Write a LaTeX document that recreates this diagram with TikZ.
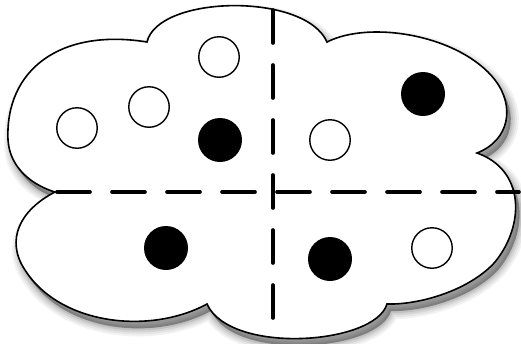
\documentclass[tikz,border=0pt]{standalone}
\newcommand\cloudpath{(147,42) .. controls (158,-5) and (305,-8) .. (327,42)
  .. controls (370,20) and (460,35) .. (495,80)
  .. controls (515,106) and (510,140) .. (477,153)
  .. controls (525,170) and (525,225) .. (495,262)
  .. controls (470,290) and (420,305) .. (387,304)
  .. controls (375,345) and (230,355) .. (207,304)
  .. controls (150,335) and (60,325) .. (25,270)
  .. controls (5,240) and (20,210) .. (55,192)
  .. controls (35,186) and (10,170) .. (8,140)
  .. controls (5,70) and (60,28) .. (147,42) -- cycle}
\begin{document}
\begin{tikzpicture}[x=1pt,y=-1pt,
  wc/.style={circle, draw=black, fill=white, line width=1.4pt, minimum size=40.5pt, inner sep=0pt},
  bc/.style={circle, fill=black, minimum size=44pt, inner sep=0pt},
  divider/.style={line width=3.6pt, line cap=round, dash pattern=on 33pt off 22pt}]
\useasboundingbox (0,0) rectangle (521,343);
\begin{scope}[shift={(4,7)}]
  \foreach \w/\o in {16/0.05,12/0.06,8/0.07,4/0.09}{
    \draw[line width=\w pt, opacity=\o, line join=round] \cloudpath;
  }
  \fill[opacity=0.35] \cloudpath;
\end{scope}
\filldraw[fill=white, draw=black, line width=1.6pt, line join=miter] \cloudpath;
\coordinate (vt) at (273,10);
\coordinate (vb) at (273,340);
\coordinate (hl) at (57,192);
\coordinate (hr) at (519,192);
\draw[divider] (vt) -- (vb);
\draw[divider] (hl) -- (hr);
\node[wc] (w1) at (77,128) {};
\node[wc] (w2) at (149,107) {};
\node[wc] (w3) at (219,57) {};
\node[bc] (b1) at (220,140) {};
\node[bc] (b2) at (423,94) {};
\node[wc] (w4) at (330,140) {};
\node[bc] (b3) at (166,248) {};
\node[bc] (b4) at (330,259) {};
\node[wc] (w5) at (432,248) {};
\end{tikzpicture}
\end{document}
